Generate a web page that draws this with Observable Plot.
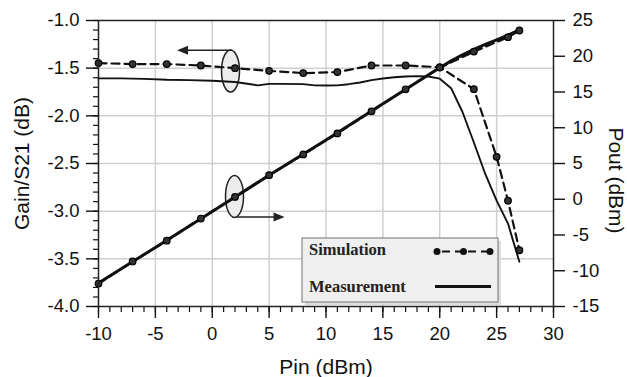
<!DOCTYPE html>
<html><head><meta charset="utf-8">
<script src="https://cdn.jsdelivr.net/npm/d3@7"></script>
<script src="https://cdn.jsdelivr.net/npm/@observablehq/plot@0.6"></script>
<style>
body{margin:0;background:#fff;}
#chart{position:relative;width:627px;height:377px;}
</style>
</head><body><div id="chart"></div>
<script>
// ---- data ----
const simPin  = [-10,-7,-4,-1,2,5,8,11,14,17,20,23,25,26,27];
const simGain = [-1.447,-1.457,-1.457,-1.472,-1.50,-1.528,-1.552,-1.541,-1.472,-1.472,-1.49,-1.72,-2.43,-2.89,-3.41];

const measGainPin = [-10,-8,-6,-4,-2,0,2,4,5,6,8,9,10,11,12,13,14,15,16,17,18,19,20,21,22,23,24,25,26,27];
const measGain    = [-1.607,-1.607,-1.612,-1.622,-1.625,-1.632,-1.645,-1.68,-1.665,-1.665,-1.667,-1.68,-1.682,-1.68,-1.668,-1.65,-1.625,-1.608,-1.595,-1.588,-1.583,-1.588,-1.61,-1.71,-1.96,-2.28,-2.61,-2.89,-3.13,-3.53];

const simPoutPin = [-10,-7,-4,-1,2,5,8,11,14,17,20,23,26,27];
const simPout    = [-11.8,-8.7,-5.8,-2.7,0.33,3.37,6.27,9.21,12.3,15.38,18.41,20.65,22.67,23.6];

const measPoutPin = [-10,-5,0,5,10,15,20,21,22,23,24,25,26,27];
const measPout    = [-11.7,-6.75,-1.7,3.35,8.3,13.35,18.4,19.35,20.2,20.95,21.65,22.3,22.95,23.7];

const xMajor = [-10,-5,0,5,10,15,20,25,30];
const xMinor = d3.range(-10,31,1);
const gainMajor = [-4.0,-3.5,-3.0,-2.5,-2.0,-1.5,-1.0];
const gainMinor = d3.range(-40,-9,1).map(d => d/10);
const poutTicks = [-15,-10,-5,0,5,10,15,20,25];

const xTitle = "Pin (dBm)";
const yTitle = "Gain/S21 (dB)";
const y2Title = "Pout (dBm)";
const legendLabels = ["Simulation","Measurement"];

// annotation anchors (data coordinates)
const gainMarker = {pin:1.65, gain:-1.535, arrowTo:-3.05, arrowGain:-1.318};
const poutMarker = {pin:2.0, pout:0.33, arrowTo:6.4, arrowPout:-2.56};

// ---- helpers ----
const toGain = p => -4 + (p + 15) * 3 / 40;      // map Pout onto the gain axis
const fromGain = g => (g + 4) * 40 / 3 - 15;
const zip = (xs, ys) => xs.map((x, i) => ({x, y: ys[i]}));

const simGainData = zip(simPin, simGain);
const measGainData = zip(measGainPin, measGain);
const simPoutData = zip(simPoutPin, simPout.map(toGain));
const measPoutData = zip(measPoutPin, measPout.map(toGain));

const font = "'Liberation Sans', Arial, Helvetica, sans-serif";
const ink = "#111";

const plot = Plot.plot({
  width: 627, height: 377,
  marginLeft: 98, marginRight: 74, marginTop: 20, marginBottom: 71,
  x: {domain: [-10, 30]},
  y: {domain: [-4, -1]},
  style: {fontFamily: font, background: "#fff", overflow: "visible", color: ink},
  marks: [
    Plot.gridX({ticks: xMajor.slice(1, -1), stroke: "#cfcfcf", strokeOpacity: 1, strokeWidth: 1.5}),
    Plot.gridY({ticks: gainMajor.slice(1, -1), stroke: "#cfcfcf", strokeOpacity: 1, strokeWidth: 1.5}),
    // minor ticks
    Plot.axisX({ticks: xMinor, tickSize: 6, tickFormat: () => "", label: null, strokeWidth: 1.2}),
    Plot.axisY({ticks: gainMinor, tickSize: 5, tickFormat: () => "", label: null, strokeWidth: 1.2}),
    // major ticks
    Plot.axisX({ticks: xMajor, tickSize: 12, tickPadding: 8, tickFormat: d => String(d), label: null, fontSize: 18.5, strokeWidth: 1.4}),
    Plot.axisY({ticks: gainMajor, tickSize: 12, tickPadding: 7, tickFormat: d => d.toFixed(1), label: null, fontSize: 18.5, strokeWidth: 1.4}),
    Plot.axisY({anchor: "right", ticks: poutTicks.map(toGain), tickSize: 11, tickPadding: 8,
      tickFormat: d => String(Math.round(fromGain(d))), label: null, fontSize: 18.5, strokeWidth: 1.4}),
    // curves
    Plot.line(measGainData, {x: "x", y: "y", stroke: ink, strokeWidth: 1.9}),
    Plot.line(simGainData, {x: "x", y: "y", stroke: ink, strokeWidth: 2.2, strokeDasharray: "8,5"}),
    Plot.dot(simGainData, {x: "x", y: "y", r: 3.3, fill: "#333", stroke: "#000", strokeWidth: 1.2}),
    Plot.line(measPoutData, {x: "x", y: "y", stroke: ink, strokeWidth: 3}),
    Plot.line(simPoutData, {x: "x", y: "y", stroke: ink, strokeWidth: 2.4, strokeDasharray: "8,5"}),
    Plot.dot(simPoutData, {x: "x", y: "y", r: 3.3, fill: "#333", stroke: "#000", strokeWidth: 1.2}),
    Plot.frame({stroke: "#222", strokeWidth: 1.5}),
    // titles
    Plot.text([yTitle], {text: d => d, frameAnchor: "left", textAnchor: "middle", lineAnchor: "middle", rotate: -90, dx: -76, fontSize: 21}),
    Plot.text([y2Title], {text: d => d, frameAnchor: "right", textAnchor: "middle", lineAnchor: "middle", rotate: 90, dx: 62, dy: 17, fontSize: 21}),
    Plot.text([xTitle], {text: d => d, frameAnchor: "bottom", textAnchor: "middle", lineAnchor: "middle", dy: 61, fontSize: 21})
  ]
});
document.getElementById("chart").appendChild(plot);

// ---- annotations & legend ----
const sx = plot.scale("x"), sy = plot.scale("y");
const svg = d3.select(plot);
// ellipses sit beneath the curves; arrows on top
const firstLine = plot.querySelector('g[aria-label="line"]');
const gUnder = firstLine ? d3.select(plot.insertBefore(document.createElementNS("http://www.w3.org/2000/svg", "g"), firstLine)) : svg.append("g");
const g = svg.append("g");

function marker(cx, cy, x1, x2, ay) {
  gUnder.append("ellipse").attr("cx", cx).attr("cy", cy).attr("rx", 9).attr("ry", 21)
    .attr("fill", "#ececec").attr("stroke", "#222").attr("stroke-width", 1.5);
  const dir = Math.sign(x2 - x1);
  g.append("line").attr("x1", x1).attr("y1", ay).attr("x2", x2 - dir * 9).attr("y2", ay)
    .attr("stroke", "#222").attr("stroke-width", 1.6);
  g.append("path").attr("d", `M${x2},${ay} L${x2 - dir * 11},${ay - 4.5} L${x2 - dir * 11},${ay + 4.5} Z`)
    .attr("fill", "#222");
}
{
  const cx = sx.apply(gainMarker.pin), cy = sy.apply(gainMarker.gain);
  marker(cx, cy, cx + 1.5, sx.apply(gainMarker.arrowTo), sy.apply(gainMarker.arrowGain));
}
{
  const cx = sx.apply(poutMarker.pin), cy = sy.apply(toGain(poutMarker.pout));
  marker(cx, cy, cx + 2, sx.apply(poutMarker.arrowTo), sy.apply(toGain(poutMarker.arrowPout)));
}

// legend box
const L = {x: 302, y: 238, w: 196, h: 64};
const lg = svg.append("g").attr("text-anchor", "start");
lg.append("rect").attr("x", L.x + 3).attr("y", L.y + 3).attr("width", L.w).attr("height", L.h).attr("fill", "#dcdcdc");
lg.append("rect").attr("x", L.x).attr("y", L.y).attr("width", L.w).attr("height", L.h)
  .attr("fill", "#efefef").attr("stroke", "#888").attr("stroke-width", 1.2);
const serif = "'Liberation Serif', 'Times New Roman', serif";
lg.append("text").attr("x", L.x + 7).attr("y", L.y + 17).text(legendLabels[0]).attr("text-anchor", "start")
  .attr("font-family", serif).attr("font-weight", "bold").attr("font-size", 16.5).attr("fill", "#222");
lg.append("text").attr("x", L.x + 7).attr("y", L.y + 54).text(legendLabels[1]).attr("text-anchor", "start")
  .attr("font-family", serif).attr("font-weight", "bold").attr("font-size", 16.5).attr("fill", "#222");
lg.append("line").attr("x1", L.x + 135).attr("x2", L.x + 188).attr("y1", L.y + 13.5).attr("y2", L.y + 13.5)
  .attr("stroke", "#111").attr("stroke-width", 2.2).attr("stroke-dasharray", "8,5").attr("stroke-dashoffset", -5);
[135, 161.5, 188].forEach(dx => lg.append("circle").attr("cx", L.x + dx).attr("cy", L.y + 13.5).attr("r", 3.5).attr("fill", "#111"));
lg.append("line").attr("x1", L.x + 133).attr("x2", L.x + 189).attr("y1", L.y + 48.5).attr("y2", L.y + 48.5)
  .attr("stroke", "#111").attr("stroke-width", 3);
</script>
</body></html>
